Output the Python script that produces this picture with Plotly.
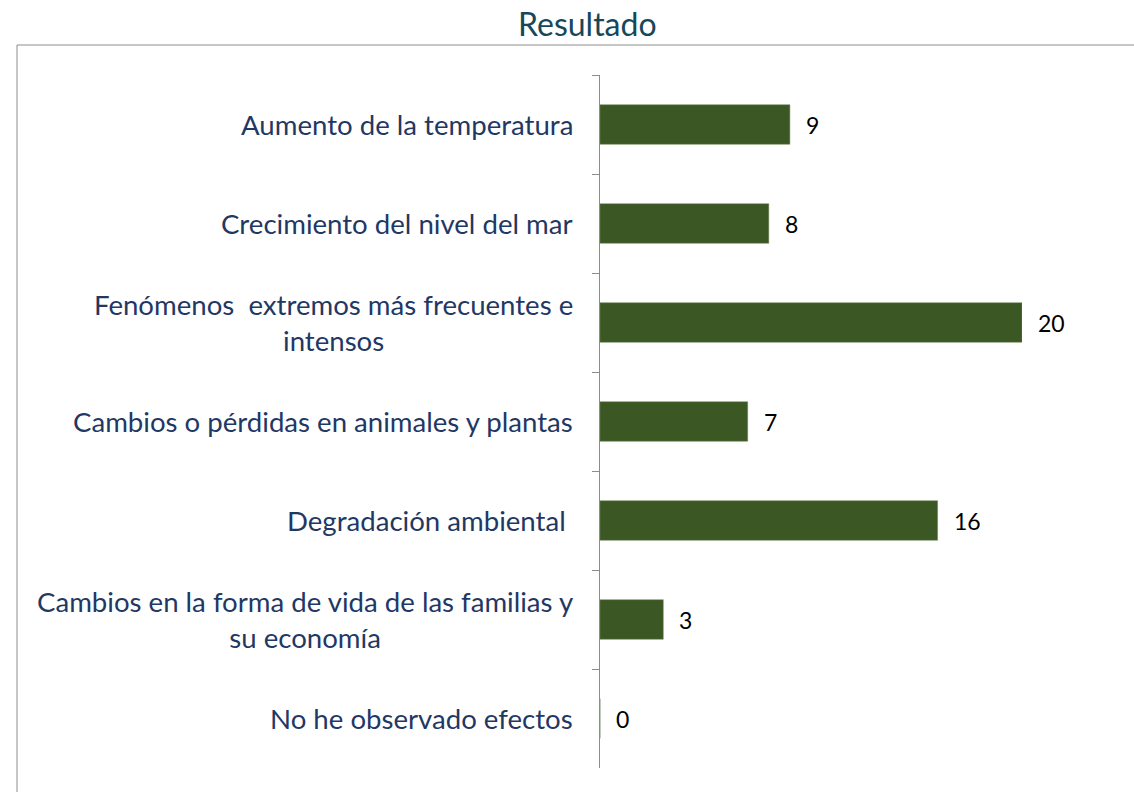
import plotly.graph_objects as go

categories = [
    "Aumento de la temperatura",
    "Crecimiento del nivel del mar",
    "Fenómenos  extremos más frecuentes e<br>intensos",
    "Cambios o pérdidas en animales y plantas",
    "Degradación ambiental ",
    "Cambios en la forma de vida de las familias y<br>su economía",
    "No he observado efectos",
]
values = [9, 8, 20, 7, 16, 3, 0]
title_text = "Resultado"

W, H = 1134, 792
L, R_EDGE, T, B_EDGE = 600, 1022, 75, 768
pw, ph = R_EDGE - L, B_EDGE - T

FONT = "Lato, Carlito, Calibri, sans-serif"
label_font = dict(family=FONT, size=27.6, color="#1F3864")
val_font = dict(family=FONT, size=23, color="#000000")

fig = go.Figure(go.Bar(
    x=values, y=categories, orientation="h", width=0.4,
    marker=dict(color="#3B5723", line=dict(color="#6E8A5A", width=0.5)),
    hoverinfo="skip",
))

annotations = []
for c, v in zip(categories, values):
    annotations.append(dict(x=0, y=c, xref="paper", yref="y", text=c, showarrow=False,
                            xanchor="right", yanchor="middle", align="center",
                            xshift=-25, font=label_font))
    annotations.append(dict(x=v, y=c, xref="x", yref="y", text=str(v), showarrow=False,
                            xanchor="left", yanchor="middle", xshift=14, font=val_font))

# title as an annotation placed in the top margin, fully inside the figure
annotations.append(dict(x=(587 - L) / pw, y=(B_EDGE - 23) / ph,
                        xref="paper", yref="paper", text=title_text, showarrow=False,
                        xanchor="center", yanchor="middle", borderpad=0,
                        font=dict(family=FONT, size=32, color="#16475A")))

fig.update_layout(
    width=W, height=H,
    margin=dict(l=L, r=W - R_EDGE, t=T, b=H - B_EDGE),
    paper_bgcolor="white", plot_bgcolor="white",
    showlegend=False,
    xaxis=dict(range=[0, 20], visible=False, fixedrange=True),
    yaxis=dict(type="category", autorange="reversed", showticklabels=False,
               showline=True, linecolor="#8C8C8C", linewidth=1,
               ticks="outside", ticklen=7, tickcolor="#8C8C8C", tickson="boundaries",
               showgrid=False, zeroline=False, range=[6.5, -0.5]),
    annotations=annotations,
    shapes=[dict(type="rect", xref="paper", yref="paper",
                 x0=(17 - L) / pw, x1=(W + 10 - L) / pw,
                 y0=(B_EDGE - (H + 10)) / ph, y1=(B_EDGE - 45) / ph,
                 line=dict(color="#8C8C8C", width=1), fillcolor="rgba(0,0,0,0)", layer="below")],
)

fig.write_html("out.html",
               config={"displayModeBar": False},
               post_script="document.body.style.margin='0';document.body.style.overflow='hidden';")
